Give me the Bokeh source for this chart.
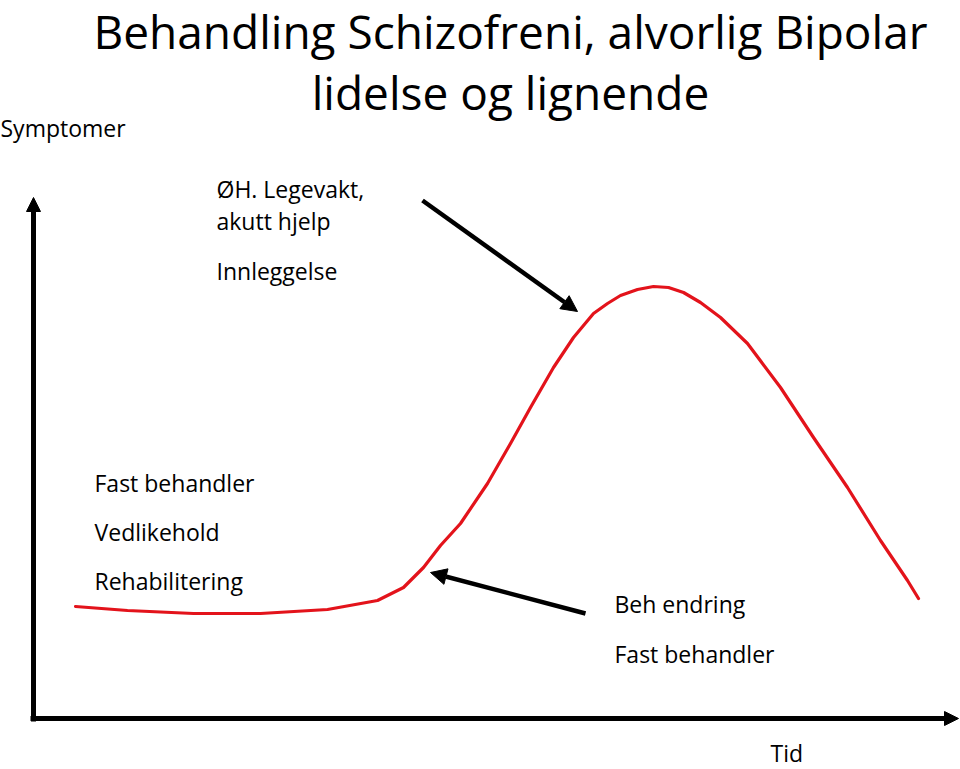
from bokeh.plotting import figure
from bokeh.models import Range1d, Arrow, NormalHead
from bokeh.core.properties import value
from bokeh.embed import file_html
from bokeh.resources import INLINE

# Curve: time vs symptom level (units: 0..960 time, 0..769 symptoms)
time = [75, 127, 193, 260, 327, 377, 403, 420, 423, 440, 460, 487, 510, 530, 553, 573, 593, 607, 620, 637,
        653, 668, 683, 700, 720, 747, 780, 813, 847, 880, 907, 918]
symptoms = [163, 159, 156, 156, 160, 169, 182, 199, 202, 224, 246, 286, 326, 362, 402, 432, 456, 466, 474, 480,
            483, 482, 477, 467, 452, 426, 382, 332, 282, 229, 189, 171]

title_lines = ["Behandling Schizofreni, alvorlig Bipolar", "lidelse og lignende"]
upper_labels = ["ØH. Legevakt,", "akutt hjelp", "Innleggelse"]
left_labels = ["Fast behandler", "Vedlikehold", "Rehabilitering"]
right_labels = ["Beh endring", "Fast behandler"]
y_label = "Symptomer"
x_label = "Tid"

W, H = 960, 769
FONT = "Open Sans"

p = figure(width=W, height=H, output_backend="svg", toolbar_location=None,
           x_axis_type=None, y_axis_type=None, min_border=0,
           x_range=Range1d(0, W), y_range=Range1d(0, H))
p.grid.visible = False
p.outline_line_color = None
p.background_fill_color = "white"
p.border_fill_color = "white"

# axes with arrows
p.add_layout(Arrow(x_start=33, y_start=48, x_end=33, y_end=572, line_width=5, line_color="black",
                   end=NormalHead(size=14, fill_color="black", line_color="black")))
p.add_layout(Arrow(x_start=30, y_start=51, x_end=958, y_end=51, line_width=5, line_color="black",
                   end=NormalHead(size=14, fill_color="black", line_color="black")))

# red curve
p.line(time, symptoms, line_color="#e3131b", line_width=3.2, line_join="round", line_cap="round")

# annotation arrows
p.add_layout(Arrow(x_start=422, y_start=569, x_end=577, y_end=458, line_width=4.5, line_color="black",
                   end=NormalHead(size=16, fill_color="black", line_color="black")))
p.add_layout(Arrow(x_start=585, y_start=156, x_end=430, y_end=197, line_width=4.5, line_color="black",
                   end=NormalHead(size=16, fill_color="black", line_color="black")))

def txt(x, y, t, size, align="left", baseline="middle"):
    p.text(x=[x], y=[y], text=[t], text_font=value(FONT), text_font_size=size,
           text_align=align, text_baseline=baseline, text_color="black")

txt(510, 769 - 30, title_lines[0], "46px", "center")
txt(510, 769 - 91, title_lines[1], "46px", "center")
txt(0, 769 - 127, y_label, "23px")
for lab, py in zip(upper_labels, [188, 220, 270]):
    txt(216, 769 - py, lab, "23px")
for lab, py in zip(left_labels, [482, 531, 580]):
    txt(94, 769 - py, lab, "23px")
for lab, py in zip(right_labels, [603, 653]):
    txt(614, 769 - py, lab, "23px")
txt(770, 769 - 752, x_label, "23px")

open("out.html", "w").write(file_html(p, INLINE))
